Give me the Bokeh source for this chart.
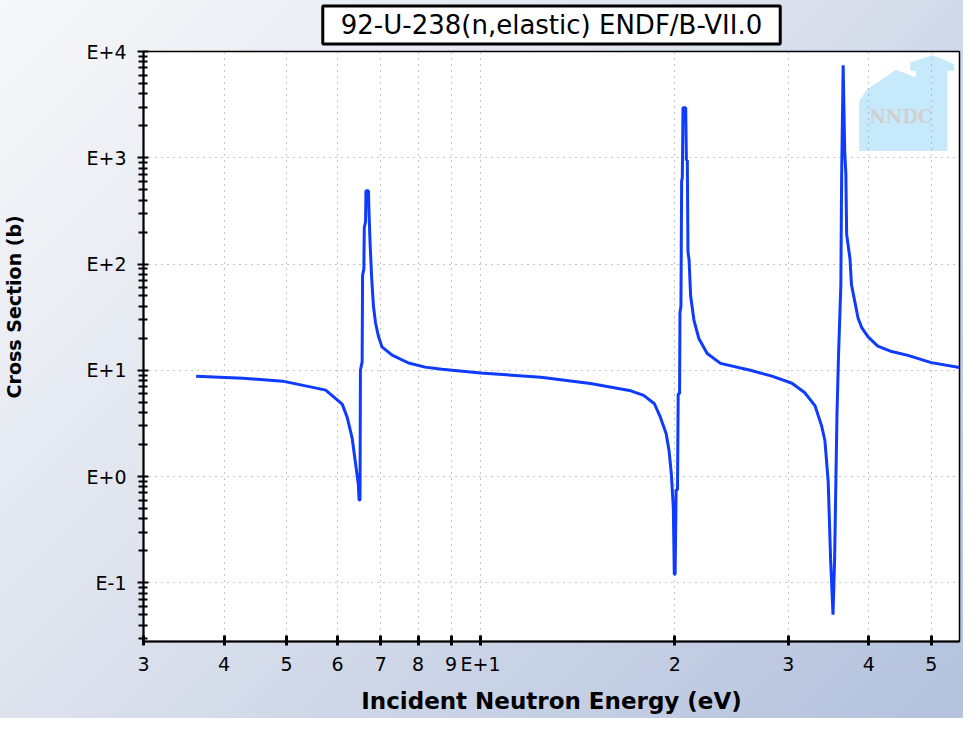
import math
from bokeh.plotting import figure
from bokeh.models import FixedTicker, Range1d
from bokeh.embed import file_html
from bokeh.resources import INLINE
from bokeh.core.properties import value

# ---------------- data ----------------
energy_ev = [3.62, 4.28, 4.93, 5.49, 5.75, 6.10, 6.21, 6.32, 6.40, 6.46, 6.48, 6.50,
             6.51, 6.55, 6.56, 6.59, 6.60, 6.63, 6.64, 6.70, 6.71, 6.74, 6.78, 6.82,
             6.87, 6.94, 7.03, 7.29, 7.73, 8.20, 8.71, 10.0, 12.4, 14.8, 17.1,
             17.9, 18.6, 19.0, 19.4, 19.6, 19.76, 19.9, 19.97, 20.03, 20.1, 20.2,
             20.25, 20.35, 20.38, 20.45, 20.5, 20.55, 20.6, 20.8, 20.85, 20.92,
             20.97, 21.05, 21.17, 21.42, 21.8, 22.46, 23.55, 26.2, 28.3,
             30.4, 31.8, 33.0, 33.8, 34.2, 34.6, 34.9, 35.2, 35.4, 35.7, 35.9,
             36.2, 36.3, 36.5, 36.7, 36.85, 36.96, 37.4, 37.6, 38.1, 38.5, 39.0,
             39.9, 41.3, 43.4, 46.0, 50.0, 55.3]
xs_barn = [8.8, 8.4, 7.9, 6.9, 6.5, 4.8, 3.6, 2.3, 1.3, 0.85, 0.60, 0.60,
           10.0, 12.0, 78.0, 90.0, 220.0, 250.0, 490.0, 490.0, 330.0, 150.0, 70.0, 40.0,
           28.0, 21.0, 16.6, 13.9, 11.7, 10.7, 10.2, 9.4, 8.6, 7.5, 6.4,
           5.8, 4.84, 3.62, 2.52, 1.75, 1.06, 0.51, 0.12, 0.12, 0.75, 0.75,
           6.0, 6.0, 35.0, 40.0, 600.0, 650.0, 2950.0, 2950.0, 950.0, 950.0,
           130.0, 110.0, 50.0, 29.7, 19.9, 14.4, 11.6, 10.0, 8.8,
           7.55, 6.17, 4.65, 2.99, 2.17, 0.89, 0.165, 0.05, 0.165, 3.8, 13.8,
           63.7, 657.0, 7400.0, 1156.0, 713.0, 189.0, 112.0, 63.7, 42.6, 30.9, 25.2,
           20.6, 16.9, 15.0, 13.8, 11.8, 10.6]

x_ticks = [3, 4, 5, 6, 7, 8, 9, 10, 20, 30, 40, 50]
x_tick_labels = ["3", "4", "5", "6", "7", "8", "9", "E+1", "2", "3", "4", "5"]
y_ticks = [0.1, 1, 10, 100, 1000, 10000]
y_tick_labels = ["E-1", "E+0", "E+1", "E+2", "E+3", "E+4"]
y_minor_mantissas = [2, 3, 4, 5, 6, 7, 8, 9]
y_decades = [0.01, 0.1, 1, 10, 100, 1000]
x_limits = (3.0, 55.3)
y_limits = (0.028, 10000.0)

title_text = "92-U-238(n,elastic) ENDF/B-VII.0"
x_label = "Incident Neutron Energy (eV)"
y_label = "Cross Section (b)"
logo_text = "NNDC"

# ---------------- figure ----------------
p = figure(width=963, height=718, x_axis_type="log", y_axis_type="log",
           x_range=Range1d(*x_limits), y_range=Range1d(*y_limits),
           output_backend="svg", toolbar_location=None,
           min_border_left=142, min_border_right=4, min_border_top=0,
           min_border_bottom=77)
p.border_fill_color = None
p.background_fill_color = "white"
p.styles = {"background": "linear-gradient(135deg, #f7f8fa 0%, #dfe4ee 40%, #b3c1dd 100%)"}
p.outline_line_color = "black"
p.outline_line_width = 1.5

# title (boxed)
p.title.text = title_text
p.title.align = "center"
p.title.vertical_align = "top"
p.title.text_font = "DejaVu Sans"
p.title.text_font_size = "26px"
p.title.text_font_style = "normal"
p.title.text_color = "black"
p.title.border_line_color = "black"
p.title.border_line_width = 3
p.title.background_fill_color = "white"
p.title.padding = (18, 4)
p.title.standoff = 11

# logo (decoration, placed by fractions of the frame)
lx0, lx1 = math.log10(x_limits[0]), math.log10(x_limits[1])
ly0, ly1 = math.log10(y_limits[0]), math.log10(y_limits[1])
def fx(f):
    return 10 ** (lx0 + f * (lx1 - lx0))
def fy(f):
    return 10 ** (ly0 + f * (ly1 - ly0))
logo_fx = [0.877, 0.877, 0.887, 0.922, 0.9465, 0.9465, 0.9397, 0.9397, 0.967, 0.9935, 0.9935, 0.9853, 0.9853]
logo_fy = [0.8313, 0.9163, 0.9361, 0.9689, 0.9558, 0.9672, 0.9672, 0.9813, 0.9939, 0.9786, 0.9672, 0.9672, 0.8313]
p.patch([fx(f) for f in logo_fx], [fy(f) for f in logo_fy],
        fill_color="#c6eafc", line_color=None, level="image")
p.text(x=[fx(0.928)], y=[fy(0.889)], text=[logo_text], text_font=value("DejaVu Serif"),
       text_font_style="bold", text_font_size="18px", text_color="#cfcfcf",
       text_align="center", text_baseline="middle", level="image")

# data curve
p.line(energy_ev, xs_barn, line_color="#0f3bff", line_width=3)

# axes
y_minor = [m * d for d in y_decades for m in y_minor_mantissas
           if y_limits[0] <= m * d <= y_limits[1]]
p.xaxis.ticker = FixedTicker(ticks=x_ticks, minor_ticks=[])
p.yaxis.ticker = FixedTicker(ticks=y_ticks, minor_ticks=y_minor)
p.xaxis.major_label_overrides = dict(zip(x_ticks, x_tick_labels))
p.yaxis.major_label_overrides = dict(zip(y_ticks, y_tick_labels))

for ax in (p.xaxis[0], p.yaxis[0]):
    ax.axis_line_color = "black"
    ax.axis_line_width = 2
    ax.major_tick_line_color = "black"
    ax.minor_tick_line_color = "black"
    ax.major_label_text_font = "DejaVu Sans"
    ax.major_label_text_font_size = "19px"
    ax.major_label_text_color = "black"
    ax.axis_label_text_font = "DejaVu Sans"
    ax.axis_label_text_font_style = "bold"
    ax.axis_label_text_color = "black"

p.xaxis.major_tick_line_width = 3
p.xaxis.major_tick_in = 6
p.xaxis.major_tick_out = 4
p.xaxis.major_label_standoff = 7
p.xaxis.axis_label = x_label
p.xaxis.axis_label_text_font_size = "23px"
p.xaxis.axis_label_standoff = 10

p.yaxis.major_tick_line_width = 2
p.yaxis.minor_tick_line_width = 2
p.yaxis.major_tick_in = 5
p.yaxis.major_tick_out = 6
p.yaxis.minor_tick_in = 4
p.yaxis.minor_tick_out = 5
p.yaxis.major_label_standoff = 11
# leading no-break spaces lift the centred label a little, as in the reference
p.yaxis.axis_label = "\u00a0" * 12 + y_label
p.yaxis.axis_label_text_font_size = "19px"
p.yaxis.axis_label_standoff = 58

# grids
p.xgrid.ticker = FixedTicker(ticks=x_ticks[1:])
p.ygrid.ticker = FixedTicker(ticks=y_ticks)
for g in (p.xgrid[0], p.ygrid[0]):
    g.grid_line_color = "#8c8c8c"
    g.grid_line_dash = "1 5"
    g.grid_line_width = 1

open("out.html", "w").write(file_html(p, INLINE))
